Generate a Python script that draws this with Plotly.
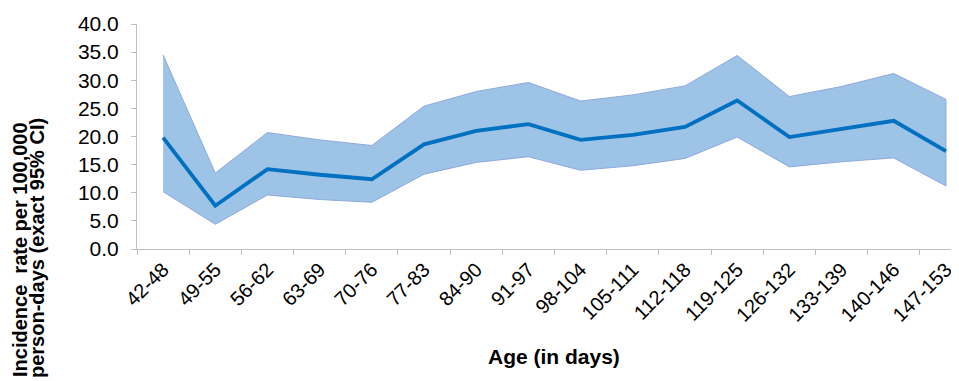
import plotly.graph_objects as go

categories = ["42-48", "49-55", "56-62", "63-69", "70-76", "77-83", "84-90", "91-97",
              "98-104", "105-111", "112-118", "119-125", "126-132", "133-139", "140-146", "147-153"]
incidence = [19.8, 7.7, 14.2, 13.2, 12.4, 18.6, 21.0, 22.2, 19.4, 20.3, 21.7, 26.4, 19.9, 21.3, 22.8, 17.4]
ci_upper = [34.5, 13.5, 20.7, 19.4, 18.4, 25.4, 28.0, 29.6, 26.3, 27.4, 29.0, 34.4, 27.1, 28.9, 31.2, 26.6]
ci_lower = [10.2, 4.4, 9.6, 8.8, 8.3, 13.3, 15.4, 16.4, 14.0, 14.8, 16.1, 19.9, 14.6, 15.5, 16.2, 11.2]
y_ticks = [0, 5, 10, 15, 20, 25, 30, 35, 40]

FONT = "Liberation Sans, Arial, sans-serif"

fig = go.Figure()
fig.add_trace(go.Scatter(
    x=categories + categories[::-1],
    y=ci_upper + ci_lower[::-1],
    fill="toself",
    fillcolor="#9DC3E6",
    line=dict(color="#8EA9DB", width=1),
    mode="lines",
    hoverinfo="skip",
    showlegend=False,
))
fig.add_trace(go.Scatter(
    x=categories,
    y=incidence,
    mode="lines",
    line=dict(color="#0070C0", width=3.8),
    showlegend=False,
))

# page body has an 8px margin: figure coordinates = screen coordinates - 8
W, H = 951, 373
L, T, B = 129, 16, 132
PW, PH = W - L, H - T - B


def fx(sx):
    return (sx - 8 - L) / PW


def fy(sy):
    return (H - B - (sy - 8)) / PH


fig.update_layout(
    width=W, height=H,
    margin=dict(l=L, r=0, t=T, b=B, autoexpand=False),
    plot_bgcolor="white", paper_bgcolor="white",
    font=dict(family=FONT, size=21, color="#000000"),
    xaxis=dict(
        type="category",
        categoryorder="array", categoryarray=categories,
        range=[-0.5, 15.25],
        tickson="boundaries",
        ticks="outside", ticklen=5, tickcolor="#BFBFBF",
        showline=True, linecolor="#BFBFBF", linewidth=1,
        showgrid=False, zeroline=False,
        tickangle=-45, automargin=False,
        tickfont=dict(family=FONT, size=20, color="#000000"),
    ),
    yaxis=dict(
        range=[0, 40],
        tickmode="array", tickvals=y_ticks,
        ticktext=[f"{v:.1f}" for v in y_ticks],
        ticks="outside", ticklen=5, tickcolor="#BFBFBF",
        showline=True, linecolor="#BFBFBF", linewidth=1,
        showgrid=False, zeroline=False, automargin=False,
        ticklabelstandoff=8,
        tickfont=dict(family=FONT, size=21, color="#000000"),
    ),
    annotations=[
        dict(text="<b>Incidence  rate per 100,000</b>", textangle=-90,
             xref="paper", yref="paper", x=fx(20), y=fy(250),
             xanchor="center", yanchor="middle", showarrow=False,
             font=dict(family=FONT, size=20, color="#000000")),
        dict(text="<b>person-days (exact 95% CI)</b>", textangle=-90,
             xref="paper", yref="paper", x=fx(37), y=fy(248),
             xanchor="center", yanchor="middle", showarrow=False,
             font=dict(family=FONT, size=20, color="#000000")),
        dict(text="<b>Age (in days)</b>",
             xref="paper", yref="paper", x=fx(554), y=fy(356),
             xanchor="center", yanchor="middle", showarrow=False,
             font=dict(family=FONT, size=21, color="#000000")),
    ],
)

fig.write_html("out.html")
